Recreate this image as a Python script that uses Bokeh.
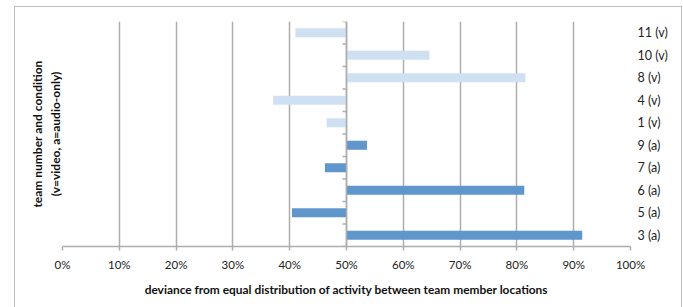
from bokeh.plotting import figure
from bokeh.models import (Range1d, FixedTicker, LinearAxis, Span,
                          PrintfTickFormatter, ColumnDataSource, InlineStyleSheet)
from bokeh.embed import file_html
from bokeh.resources import INLINE
import math

# ---- data ----
teams = ["3 (a)", "5 (a)", "6 (a)", "7 (a)", "9 (a)",
         "1 (v)", "4 (v)", "8 (v)", "10 (v)", "11 (v)"]
conditions = ["a", "a", "a", "a", "a", "v", "v", "v", "v", "v"]
deviance = [91.5, 40.4, 81.3, 46.2, 53.6, 46.5, 37.1, 81.5, 64.6, 41.0]
baseline = 50
x_ticks = [0, 10, 20, 30, 40, 50, 60, 70, 80, 90, 100]

FONT = "Lato"
GRID = "#ADADAD"
cond_color = {"a": "#5F96CB", "v": "#CFE0F2"}

pos = [i + 0.5 for i in range(len(teams))]
src = ColumnDataSource(dict(
    y=pos, left=[baseline] * len(teams), right=deviance,
    color=[cond_color[c] for c in conditions]))

border_css = InlineStyleSheet(css="""
:host { position: relative; }
:host::after {
  content: ""; position: absolute; left: 14px; top: 6px;
  width: 668px; height: 320px; border: 1.5px solid #BDBDBD;
  pointer-events: none; box-sizing: border-box;
}
""")

p = figure(width=683, height=307, output_backend="svg", toolbar_location=None,
           x_range=Range1d(0, 100), y_range=Range1d(0, len(teams)),
           min_border_left=62, min_border_right=53, min_border_top=21,
           min_border_bottom=61, y_axis_location=None,
           stylesheets=[border_css])
p.outline_line_color = None
p.background_fill_color = "white"
p.border_fill_color = "white"

# grid
p.xgrid.ticker = FixedTicker(ticks=x_ticks)
p.xgrid.grid_line_color = GRID
p.xgrid.grid_line_width = 1.5
p.ygrid.grid_line_color = None

p.hbar(y="y", left="left", right="right", height=0.4, color="color",
       line_color=None, source=src)

# x axis
xa = p.xaxis[0]
xa.ticker = FixedTicker(ticks=x_ticks)
xa.formatter = PrintfTickFormatter(format="%d%%")
xa.axis_line_color = GRID
xa.axis_line_width = 1.5
xa.major_tick_line_color = GRID
xa.major_tick_line_width = 1.5
xa.major_tick_in = 0
xa.major_tick_out = 4
xa.minor_tick_line_color = None
xa.major_label_standoff = 7
xa.major_label_text_font = FONT
xa.major_label_text_font_size = "11.5px"
xa.major_label_text_color = "#222222"
xa.axis_label = "deviance from equal distribution of activity between team member locations"
xa.axis_label_text_font = FONT
xa.axis_label_text_font_style = "bold"
xa.axis_label_text_font_size = "11.9px"
xa.axis_label_text_color = "#111111"
xa.axis_label_standoff = 8

# left axis: title only
la = LinearAxis(ticker=FixedTicker(ticks=[]), axis_line_color=None,
                major_tick_line_color=None, minor_tick_line_color=None,
                major_label_text_font_size="0px")
la.axis_label = "team number and condition\n(v=video, a=audio-only)"
la.axis_label_text_font = FONT
la.axis_label_text_font_style = "bold"
la.axis_label_text_font_size = "12px"
la.axis_label_text_color = "#111111"
la.axis_label_standoff = 0
p.add_layout(la, "left")

# right axis: category labels
ra = LinearAxis(ticker=FixedTicker(ticks=pos),
                major_label_overrides={pp: t for pp, t in zip(pos, teams)},
                axis_line_color=None, major_tick_line_color=None,
                minor_tick_line_color=None)
ra.major_label_text_font = FONT
ra.major_label_text_font_size = "12.5px"
ra.major_label_text_color = "#222222"
ra.major_label_standoff = 1
p.add_layout(ra, "right")

# category axis at the 50% baseline
p.add_layout(Span(location=baseline, dimension="height", line_color=GRID,
                  line_width=1.5))
p.ray(x=[baseline] * (len(teams) + 1), y=list(range(len(teams) + 1)),
      length=4, length_units="screen", angle=math.pi, line_color=GRID,
      line_width=1.5)

open("out.html", "w").write(file_html(p, INLINE))
